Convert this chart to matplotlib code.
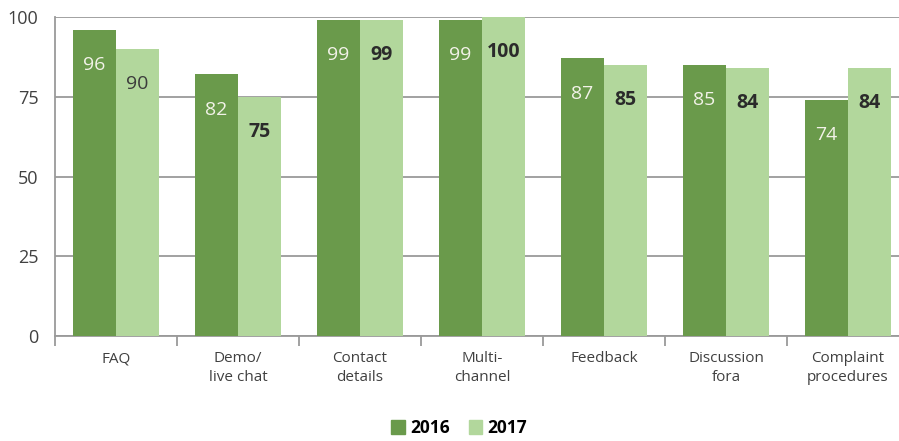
import numpy as np
import matplotlib.pyplot as plt
from matplotlib.patches import Patch

plt.rcParams['font.family'] = ['Open Sans', 'DejaVu Sans']

categories = ["FAQ", "Demo/\nlive chat", "Contact\ndetails", "Multi-\nchannel",
              "Feedback", "Discussion\nfora", "Complaint\nprocedures"]
vals_2016 = [96, 82, 99, 99, 87, 85, 74]
vals_2017 = [90, 75, 99, 100, 85, 84, 84]
bold_2017 = [False, True, True, True, True, True, True]

dark = "#6a9a4b"
light = "#b2d79c"
grid_col = "#9a9a9a"
text_col = "#404040"

fig = plt.figure(figsize=(8.99, 4.41), dpi=100)
ax = fig.add_axes([55 / 899, 105 / 441, 854 / 899, 319 / 441])

x = np.arange(len(categories))
w = 0.355
ax.bar(x - w / 2, vals_2016, w, color=dark, zorder=3)
ax.bar(x + w / 2, vals_2017, w, color=light, zorder=3)

# value labels inside the bars
for xi, v in zip(x, vals_2016):
    ax.text(xi - w / 2, v - 11, str(v), ha="center", va="center",
            fontsize=14, color="#f2f2e8", zorder=4)
for xi, v, b in zip(x, vals_2017, bold_2017):
    ax.text(xi + w / 2, v - 11, str(v), ha="center", va="center",
            fontsize=14, color="#2b2b2b" if b else "#3c3c3c",
            fontweight="bold" if b else "normal", zorder=4)

ax.set_xlim(-0.5, len(categories) - 0.5)
ax.set_ylim(0, 100)
ax.set_yticks([0, 25, 50, 75, 100])
ax.yaxis.grid(True, color=grid_col, linewidth=1.3, zorder=0)
ax.tick_params(axis="y", length=0, pad=12, labelsize=13, labelcolor=text_col)

ax.set_xticks(x)
ax.set_xticklabels(categories, fontsize=11, color=text_col, linespacing=1.3)
ax.tick_params(axis="x", which="major", length=0, pad=11)
ax.set_xticks(np.arange(-0.5, len(categories), 1), minor=True)
ax.tick_params(axis="x", which="minor", length=7, width=1.3, color=grid_col)

for s in ["top", "right"]:
    ax.spines[s].set_visible(False)
for s in ["left", "bottom"]:
    ax.spines[s].set_color(grid_col)
    ax.spines[s].set_linewidth(1.3)

handles = [Patch(color=dark, label="2016"), Patch(color=light, label="2017")]
fig.legend(handles=handles, loc="center", bbox_to_anchor=(459 / 899, 13 / 441),
           ncol=2, frameon=False, handlelength=0.8, handleheight=0.8,
           handletextpad=0.3, columnspacing=1.1,
           prop={"weight": "bold", "size": 12.5})

fig.savefig("out.png", dpi=100)
